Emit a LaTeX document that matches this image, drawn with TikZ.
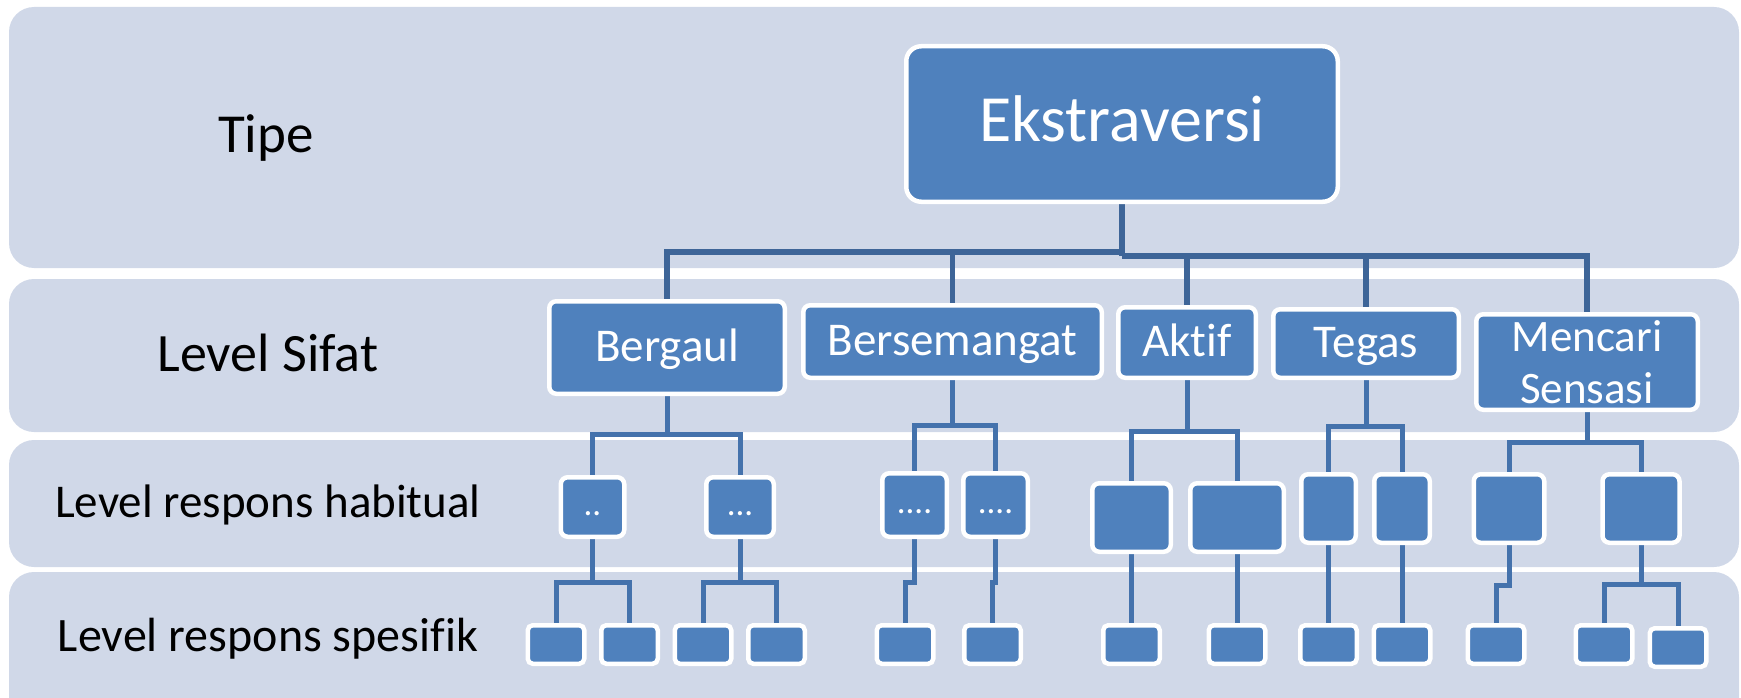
\documentclass[tikz,border=0pt]{standalone}
\usepackage{fontspec}
\setmainfont[Ligatures=NoCommon]{Carlito}
\usetikzlibrary{backgrounds}
\definecolor{bandcol}{HTML}{D0D8E8}
\definecolor{nodefill}{HTML}{4F81BD}
\definecolor{connA}{HTML}{3E6598}
\definecolor{connB}{HTML}{4472AC}
\begin{document}
\begin{tikzpicture}[x=1pt,y=-1pt,
  bandbox/.style={fill=bandcol, rounded corners=25pt},
  lvl/.style={anchor=base, text=black, inner sep=0pt},
  box/.style={draw=white, line width=4.5pt, fill=nodefill, rounded corners=7pt, text=white, inner sep=0pt, align=center},
  sifat/.style={box, font=\fontsize{47}{56}\selectfont, text height=29pt, text depth=2pt},
  habit/.style={box, font=\fontsize{35}{42}\selectfont, text height=16pt, text depth=0pt},
  spes/.style={box, minimum width=56.5pt, minimum height=38.5pt, rounded corners=5pt},
  connT/.style={draw=connA, line width=5.5pt},
  conn/.style={draw=connB, line width=5pt},
]
\useasboundingbox (0,0) rectangle (1741,698);
\clip (0,0) rectangle (1741,698);

% boxes
\node[box, minimum width=431.5pt, minimum height=155.5pt, rounded corners=15pt,
  font=\fontsize{66}{79}\selectfont, text height=38pt, text depth=2pt] (E) at (1122,124) {Ekstraversi};

\node[sifat, minimum width=235.5pt, minimum height=92.5pt] (sBerg) at (667,347.5) {Bergaul};
\node[sifat, minimum width=298.5pt, minimum height=72.5pt] (sBers) at (952.5,341.5) {Bersemangat};
\node[sifat, minimum width=137.5pt, minimum height=70.5pt] (sAkt) at (1187,342.5) {Aktif};
\node[sifat, minimum width=185.5pt, minimum height=68.5pt] (sTeg) at (1366,343.5) {Tegas};
\node[box, minimum width=221.5pt, minimum height=95.5pt, font=\fontsize{45}{52}\selectfont] (sMen) at (1587,362) {Mencari\\Sensasi};

\node[habit, minimum width=63.5pt, minimum height=59.5pt] (h1) at (592.5,507) {..};
\node[habit, minimum width=67.5pt, minimum height=59.5pt] (h2) at (740,507) {...};
\node[habit, minimum width=64.5pt, minimum height=63.5pt] (h3) at (914.5,505) {....};
\node[habit, minimum width=64.5pt, minimum height=63.5pt] (h4) at (995.5,505) {....};
\node[habit, minimum width=78.5pt, minimum height=68.5pt] (h5) at (1131.5,517.5) {};
\node[habit, minimum width=93.5pt, minimum height=68.5pt] (h6) at (1237,517.5) {};
\node[habit, minimum width=54.5pt, minimum height=68.5pt] (h7) at (1328.5,508.5) {};
\node[habit, minimum width=55.5pt, minimum height=68.5pt] (h8) at (1402,508.5) {};
\node[habit, minimum width=70.5pt, minimum height=68.5pt] (h9) at (1509,508.5) {};
\node[habit, minimum width=77pt, minimum height=68.5pt] (h10) at (1641,508.5) {};

\node[spes] (b1) at (556,644.5) {};
\node[spes] (b2) at (629.5,644.5) {};
\node[spes] (b3) at (703,644.5) {};
\node[spes] (b4) at (776.5,644.5) {};
\node[spes] (b5) at (905,644.5) {};
\node[spes] (b6) at (992.5,644.5) {};
\node[spes] (b7) at (1131.5,644.5) {};
\node[spes] (b8) at (1237,644.5) {};
\node[spes] (b9) at (1328.5,644.5) {};
\node[spes] (b10) at (1402,644.5) {};
\node[spes] (b11) at (1496,644.5) {};
\node[spes] (b12) at (1604,644.5) {};
\node[spes] (b13) at (1678,647.5) {};

% level labels
\node[lvl, font=\fontsize{55}{66}\selectfont] (lTipe) at (266,153) {Tipe};
\node[lvl, font=\fontsize{54}{65}\selectfont] (lSifat) at (268,371) {Level Sifat};
\node[lvl, font=\fontsize{47}{56}\selectfont] (lHab) at (268,517) {Level respons habitual};
\node[lvl, font=\fontsize{48}{58}\selectfont] (lSpes) at (268,651) {Level respons spesifik};

\begin{scope}[on background layer]
  % bands
  \fill[bandcol, rounded corners=25pt] (9,7) rectangle (1739,268);
  \fill[bandcol, rounded corners=25pt] (9,279) rectangle (1739,432);
  \fill[bandcol, rounded corners=25pt] (9,440) rectangle (1739,567);
  \fill[bandcol, rounded corners=25pt] (9,572) rectangle (1739,725);

  % top connectors
  \coordinate (eL) at (1122,252);
  \coordinate (eR) at (1122,256);
  \draw[connT] (E.south) -- (eR);
  \draw[connT] (eR) -- (eL) -| (sBerg.north);
  \draw[connT] (eL) -| (sBers.north);
  \draw[connT] (eR) -| (sAkt.north);
  \draw[connT] (eR) -| (sTeg.north);
  \draw[connT] (eR) -| (sMen.north);

  % sifat -> habitual
  \coordinate (cBerg) at (667,434);
  \draw[conn] (sBerg.south) -- (cBerg) -| (h1.north);
  \draw[conn] (cBerg) -| (h2.north);
  \coordinate (cBers) at (952.5,425);
  \draw[conn] (sBers.south) -- (cBers) -| (h3.north);
  \draw[conn] (cBers) -| (h4.north);
  \coordinate (cAkt) at (1187,431);
  \draw[conn] (sAkt.south) -- (cAkt) -| (h5.north);
  \draw[conn] (cAkt) -| (h6.north);
  \coordinate (cTeg) at (1366,426);
  \draw[conn] (sTeg.south) -- (cTeg) -| (h7.north);
  \draw[conn] (cTeg) -| (h8.north);
  \coordinate (cMen) at (1587,442);
  \draw[conn] (sMen.south) -- (cMen) -| (h9.north);
  \draw[conn] (cMen) -| (h10.north);

  % habitual -> spesifik
  \coordinate (d1) at (592.5,582);
  \draw[conn] (h1.south) -- (d1) -| (b1.north);
  \draw[conn] (d1) -| (b2.north);
  \coordinate (d2) at (740,582);
  \draw[conn] (h2.south) -- (d2) -| (b3.north);
  \draw[conn] (d2) -| (b4.north);
  \coordinate (d3) at (914.5,582);
  \draw[conn] (h3.south) -- (d3) -| (b5.north);
  \coordinate (d4) at (995.5,582);
  \draw[conn] (h4.south) -- (d4) -| (b6.north);
  \draw[conn] (h5.south) -- (b7.north);
  \draw[conn] (h6.south) -- (b8.north);
  \draw[conn] (h7.south) -- (b9.north);
  \draw[conn] (h8.south) -- (b10.north);
  \coordinate (d9) at (1509,585);
  \draw[conn] (h9.south) -- (d9) -| (b11.north);
  \coordinate (d10) at (1641,584);
  \draw[conn] (h10.south) -- (d10) -| (b12.north);
  \draw[conn] (d10) -| (b13.north);
\end{scope}
\end{tikzpicture}
\end{document}
